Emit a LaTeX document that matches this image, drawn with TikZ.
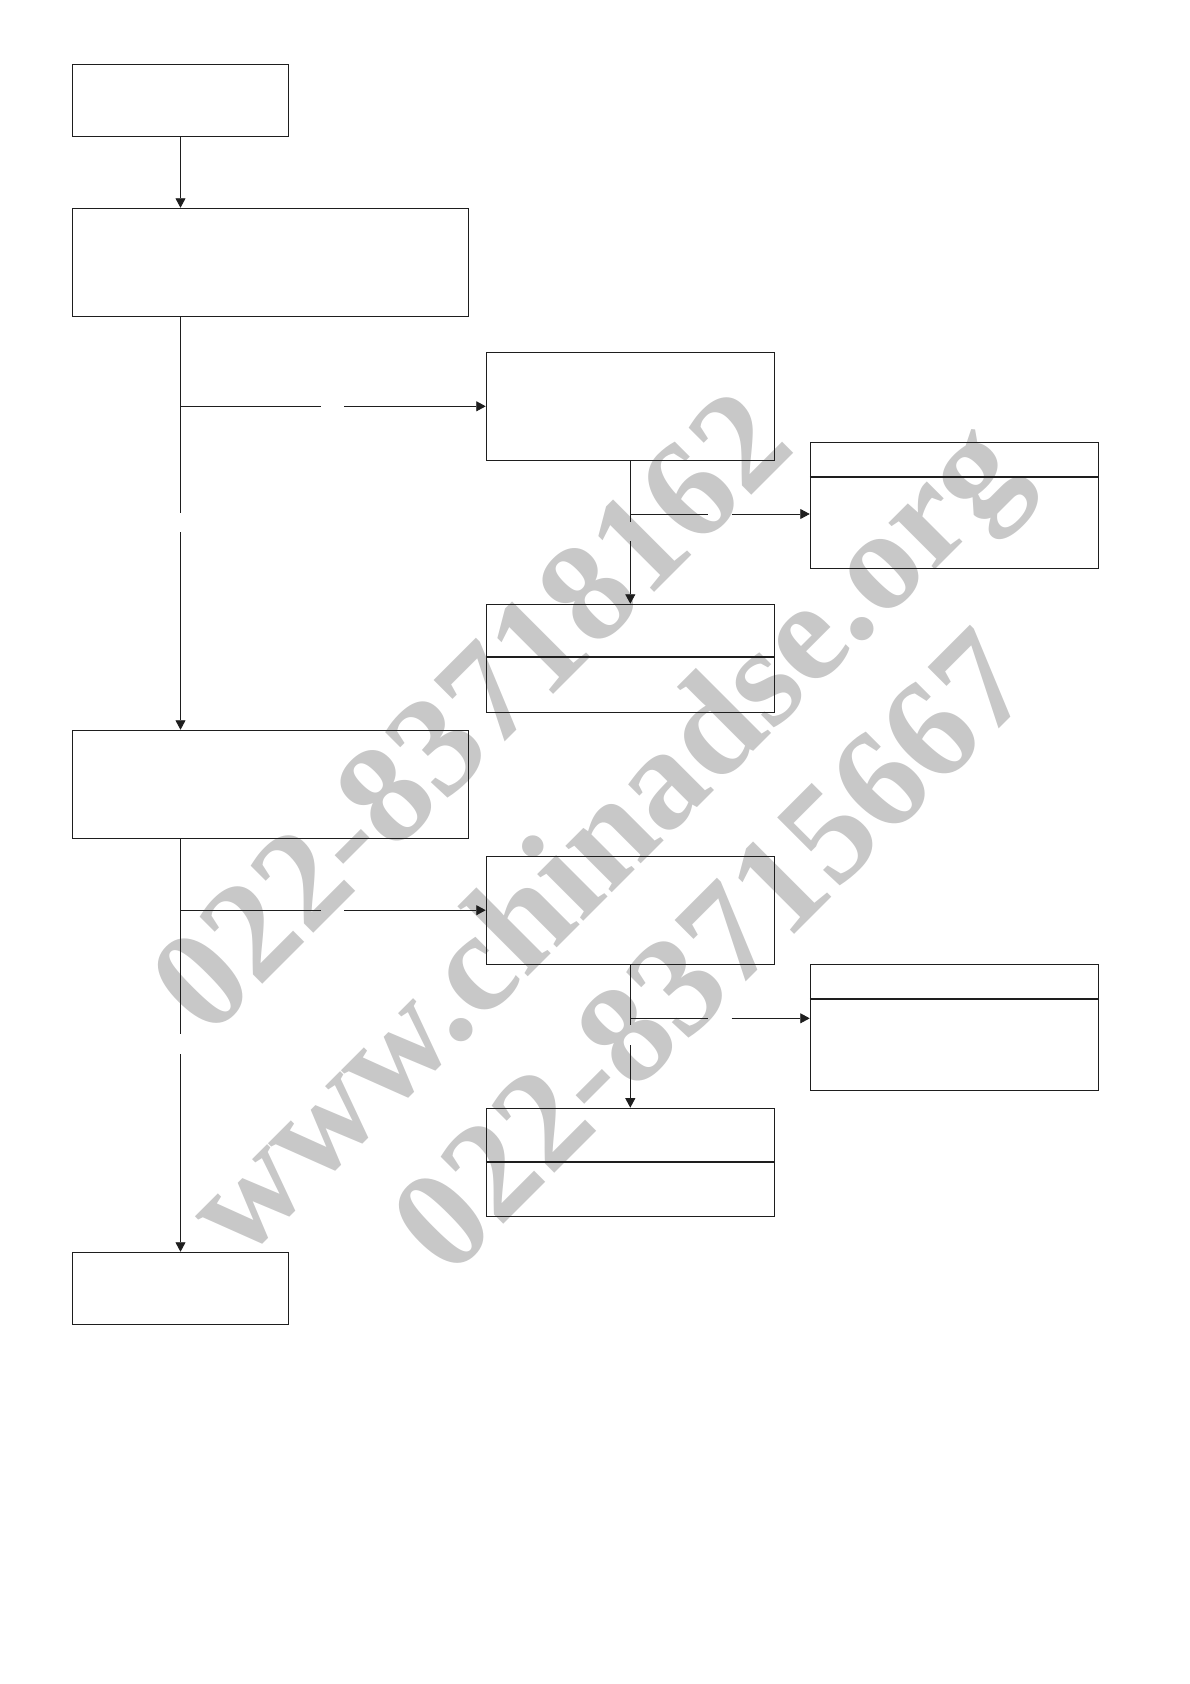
\documentclass[tikz,border=0pt]{standalone}
\usepackage{fontspec}
\setmainfont{Liberation Serif}
\usetikzlibrary{arrows.meta}
\definecolor{ink}{HTML}{1E1E1E}
\definecolor{wmgray}{HTML}{C8C8C8}
\begin{document}
\begin{tikzpicture}[x=1pt,y=-1pt,
  box/.style={draw=ink,line width=1.1pt,inner sep=0pt,rectangle},
  conn/.style={draw=ink,line width=0.9pt},
  arr/.style={conn,-{Triangle[length=9.5pt,width=10pt]}},
  divider/.style={draw=ink,line width=2pt},
  wm/.style={text=wmgray,inner sep=0pt,rotate=45,font=\fontsize{143}{143}\selectfont\bfseries}]
\useasboundingbox (0,0) rectangle (1190,1684);
% watermark
\node[wm] (w1) at (470,711) {022-83718162};
\node[wm] (w2) at (611,846) {www.chinadse.org};
\node[wm] (w3) at (711,951) {022-83715667};
% boxes
\node[box,minimum width=216.4pt,minimum height=72pt] (A) at (180.5,100.3) {};
\node[box,minimum width=396pt,minimum height=108pt] (B) at (270.3,262.3) {};
\node[box,minimum width=288pt,minimum height=108pt] (C) at (630.3,406.3) {};
\node[box,minimum width=288pt,minimum height=126pt] (D) at (954.3,505.3) {};
\node[box,minimum width=288pt,minimum height=108pt] (F) at (630.3,658.3) {};
\node[box,minimum width=396pt,minimum height=108pt] (E) at (270.3,784.3) {};
\node[box,minimum width=288pt,minimum height=108pt] (G) at (630.3,910.2) {};
\node[box,minimum width=288pt,minimum height=126pt] (I) at (954.3,1027.3) {};
\node[box,minimum width=288pt,minimum height=108pt] (H) at (630.3,1162.2) {};
\node[box,minimum width=216.4pt,minimum height=72pt] (J) at (180.5,1288.3) {};
% dividers
\draw[divider] ([yshift=-35.4pt]D.north west) -- ([yshift=-35.4pt]D.north east);
\draw[divider] ([yshift=-53.7pt]F.north west) -- ([yshift=-53.7pt]F.north east);
\draw[divider] ([yshift=-35.7pt]I.north west) -- ([yshift=-35.7pt]I.north east);
\draw[divider] ([yshift=-54pt]H.north west) -- ([yshift=-54pt]H.north east);
% gap coordinates
\coordinate (g1a) at (180.5,512.7);
\coordinate (g1b) at (180.5,532);
\coordinate (h1a) at (321,406.3);
\coordinate (h1b) at (344,406.3);
\coordinate (c1) at (630.3,514);
\coordinate (v1a) at (630.3,522);
\coordinate (v1b) at (630.3,541);
\coordinate (b1a) at (707.7,514);
\coordinate (b1b) at (731.7,514);
\coordinate (g2a) at (180.5,1034.3);
\coordinate (g2b) at (180.5,1054);
\coordinate (h2a) at (321,910.2);
\coordinate (h2b) at (344,910.2);
\coordinate (c2) at (630.3,1018.3);
\coordinate (v2a) at (630.3,1025);
\coordinate (v2b) at (630.3,1045);
\coordinate (b2a) at (707.7,1018.3);
\coordinate (b2b) at (731.7,1018.3);
% connectors
\draw[arr] (A.south) -- (A.south |- B.north);
\draw[conn] (A.south |- B.south) -- (g1a);
\draw[arr] (g1b) -- (A.south |- E.north);
\draw[conn] (A.south |- C.west) -- (h1a);
\draw[arr] (h1b) -- (C.west);
\draw[conn] (C.south) -- (v1a);
\draw[arr] (v1b) -- (F.north);
\draw[conn] (c1) -- (b1a);
\draw[arr] (b1b) -- (b1b -| D.west);
\draw[conn] (A.south |- E.south) -- (g2a);
\draw[arr] (g2b) -- (J.north);
\draw[conn] (A.south |- G.west) -- (h2a);
\draw[arr] (h2b) -- (G.west);
\draw[conn] (G.south) -- (v2a);
\draw[arr] (v2b) -- (H.north);
\draw[conn] (c2) -- (b2a);
\draw[arr] (b2b) -- (b2b -| I.west);
\end{tikzpicture}
\end{document}
